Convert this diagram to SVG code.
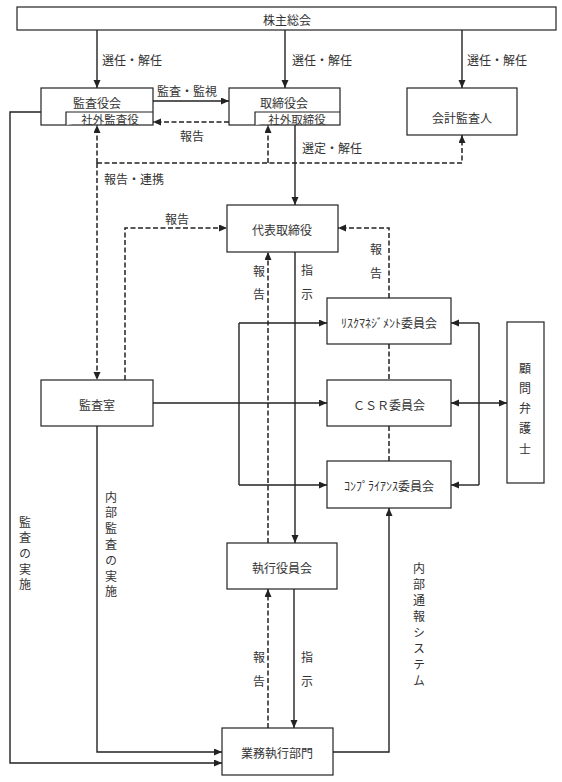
<svg xmlns="http://www.w3.org/2000/svg" width="562" height="782" viewBox="0 0 562 782">
<style>
text{font-family:"Noto Sans CJK JP","Noto Sans CJK SC",sans-serif;font-size:12px;fill:#333;text-anchor:middle;dominant-baseline:central}
text.v{writing-mode:vertical-rl;text-anchor:start;dominant-baseline:central}
text.s{font-size:11.5px}
.box{fill:#fff;stroke:#222;stroke-width:1.2}
.ln{fill:none;stroke:#222;stroke-width:1.4}
.ds{fill:none;stroke:#222;stroke-width:1.5;stroke-dasharray:5 2.5}
.a{marker-end:url(#ah)}
.b{marker-start:url(#ah);marker-end:url(#ah)}
</style>
<defs>
<marker id="ah" markerUnits="userSpaceOnUse" markerWidth="9" markerHeight="8" refX="8" refY="3.5" orient="auto-start-reverse"><path d="M0,0 L8,3.5 L0,7 z" fill="#222"/></marker>
</defs>
<rect width="562" height="782" fill="#fff"/>
<g id="connectors">
<path class="ln a" d="M97,30 V88"/>
<path class="ln a" d="M285,30 V88"/>
<path class="ln a" d="M462,30 V88"/>
<path class="ln a" d="M153,101 H229"/>
<path class="ds a" d="M229,122 H153"/>
<path class="ds a" d="M97,163 V125"/>
<path class="ds a" d="M97,163 V380"/>
<path class="ds a" d="M97,163 H462 V135"/>
<path class="ds a" d="M268,163 V125"/>
<path class="ln a" d="M295,125 V205"/>
<path class="ds a" d="M125,380 V228 H227"/>
<path class="ds a" d="M389,298 V228 H338"/>
<path class="ds a" d="M268,543 V252"/>
<path class="ln a" d="M295,252 V543"/>
<path class="ln" d="M239,323 V485"/>
<path class="ln a" d="M239,323 H327"/>
<path class="ln a" d="M239,485 H327"/>
<path class="ln a" d="M153,403 H327"/>
<path class="ln" d="M479,323 V485"/>
<path class="ln a" d="M479,323 H451"/>
<path class="ln a" d="M479,485 H451"/>
<path class="ln b" d="M451,403 H507"/>
<path class="ds" d="M389,344 V380"/>
<path class="ds" d="M389,426 V461"/>
<path class="ln a" d="M333,752 H389 V508"/>
<path class="ln a" d="M97,426 V752 H222"/>
<path class="ln a" d="M41,112 H10 V763 H222"/>
<path class="ds a" d="M268,728 V589"/>
<path class="ln a" d="M294,589 V728"/>
</g>
<g id="labels">
<text x="132" y="59">選任・解任</text>
<text x="322" y="59">選任・解任</text>
<text x="497" y="59">選任・解任</text>
<text x="187" y="90">監査・監視</text>
<text x="192" y="135">報告</text>
<text x="134" y="178">報告・連携</text>
<text x="332" y="147">選定・解任</text>
<text x="177" y="218">報告</text>
<text x="259" y="270">報</text><text x="259" y="293">告</text>
<text x="307" y="269">指</text><text x="307" y="293">示</text>
<text x="376" y="248">報</text><text x="376" y="272">告</text>
<text x="259" y="656">報</text><text x="259" y="680">告</text>
<text x="307" y="656">指</text><text x="307" y="680">示</text>
<text class="v" x="419" y="562" style="letter-spacing:4px">内部通報システム</text>
<text class="v" x="111" y="491" style="letter-spacing:3.8px">内部監査の実施</text>
<text class="v" x="25" y="516" style="letter-spacing:3.7px">監査の実施</text>
</g>
<g id="n-kabunushi"><rect class="box" x="17" y="7" width="539" height="23"/><text x="287" y="19">株主総会</text></g>
<g id="n-kansayakukai"><rect class="box" x="41" y="88" width="112" height="37"/><path class="box" d="M66,125 V112 H153"/><text x="97" y="102">監査役会</text><text class="s" x="110" y="119">社外監査役</text></g>
<g id="n-torishimariyakukai"><rect class="box" x="229" y="88" width="111" height="37"/><path class="box" d="M255,125 V112 H340"/><text x="284" y="102">取締役会</text><text class="s" x="297" y="119">社外取締役</text></g>
<g id="n-kaikei"><rect class="box" x="407" y="88" width="110" height="47"/><text x="462" y="117">会計監査人</text></g>
<g id="n-daihyo"><rect class="box" x="227" y="205" width="111" height="47"/><text x="282" y="229">代表取締役</text></g>
<g id="n-risk"><rect class="box" x="327" y="298" width="124" height="46"/><text x="389" y="322">ﾘｽｸﾏﾈｼﾞﾒﾝﾄ委員会</text></g>
<g id="n-csr"><rect class="box" x="327" y="380" width="124" height="46"/><text x="389" y="404">ＣＳＲ委員会</text></g>
<g id="n-comp"><rect class="box" x="327" y="461" width="124" height="47"/><text x="389" y="485">ｺﾝﾌﾟﾗｲｱﾝｽ委員会</text></g>
<g id="n-komon"><rect class="box" x="507" y="322" width="37" height="161"/><text x="525" y="367">顧</text><text x="525" y="387">問</text><text x="525" y="407">弁</text><text x="525" y="427">護</text><text x="525" y="448">士</text></g>
<g id="n-kansashitsu"><rect class="box" x="41" y="380" width="112" height="46"/><text x="97" y="404">監査室</text></g>
<g id="n-shikko"><rect class="box" x="227" y="543" width="110" height="46"/><text x="282" y="567">執行役員会</text></g>
<g id="n-gyomu"><rect class="box" x="222" y="728" width="111" height="47"/><text x="277" y="752">業務執行部門</text></g>
</svg>
